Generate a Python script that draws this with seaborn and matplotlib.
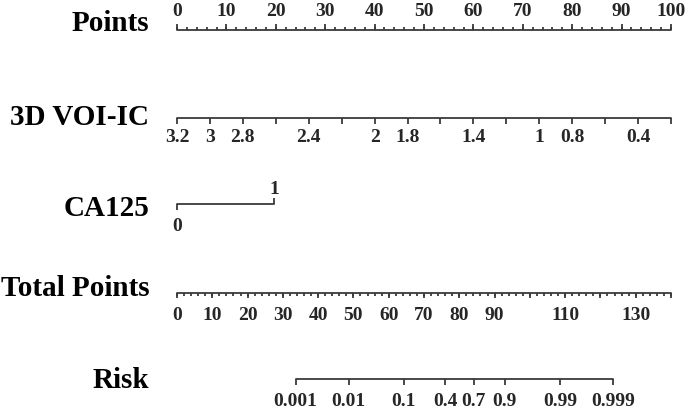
import numpy as np
import pandas as pd
import matplotlib
matplotlib.use("Agg")
import matplotlib.pyplot as plt
import seaborn as sns

# ---------------- data ----------------
row_labels = ["Points", "3D VOI-IC", "CA125", "Total Points", "Risk"]

points_major = list(range(0, 101, 10))
points_minor = list(range(0, 101, 2))

voi_ticks = [3.2, 3.0, 2.8, 2.6, 2.4, 2.2, 2.0, 1.8, 1.6, 1.4, 1.2, 1.0, 0.8, 0.6, 0.4, 0.2]
voi_labels = [3.2, 3.0, 2.8, 2.4, 2.0, 1.8, 1.4, 1.0, 0.8, 0.4]
voi_at_zero_points = 3.2
voi_at_max_points = 0.2

ca125_levels = [0, 1]
ca125_points = [0, 19.6]

total_max = 140
total_major = list(range(0, 141, 10))
total_minor = list(range(0, 141, 2))
total_labels = [0, 10, 20, 30, 40, 50, 60, 70, 80, 90, 110, 130]

risk_ticks = [0.001, 0.01, 0.1, 0.4, 0.7, 0.9, 0.99, 0.999]
risk_tp_at_half = 78.6      # total points where risk = 0.5
risk_tp_per_logit = 6.515   # total points per unit of log-odds

# ---------------- style ----------------
sns.set_theme(style="white")
plt.rcParams["font.family"] = ["Liberation Serif", "DejaVu Serif"]
plt.rcParams["font.weight"] = "bold"

LC = "#3a3a3a"
LW = 1.3
TICK_FS = 14
ROW_FS = 21

fig = plt.figure(figsize=(6.85, 4.12), dpi=100)
ax = fig.add_axes([0, 0, 1, 1])
px_per_pt = 4.94
x0 = 177
ax.set_xlim(-x0 / px_per_pt, (685 - x0) / px_per_pt)
ax.set_ylim(412, 0)
ax.axis("off")


def hline(xs, y):
    df = pd.DataFrame({"x": [min(xs), max(xs)], "y": [y, y]})
    sns.lineplot(data=df, x="x", y="y", ax=ax, color=LC, lw=LW,
                 sort=False, estimator=None, legend=False)


def ticks(xs, y, length):
    ax.vlines(xs, y, y + length, color=LC, lw=LW)


def fmt(v):
    return f"{v:g}"


def voi_to_pts(v):
    return (voi_at_zero_points - np.asarray(v)) / (voi_at_zero_points - voi_at_max_points) * 100


def tp_to_pts(tp):
    return np.asarray(tp) / total_max * 100


def risk_to_tp(p):
    p = np.asarray(p)
    return risk_tp_at_half + risk_tp_per_logit * np.log(p / (1 - p))


# Row labels
row_y = [23, 117, 208, 289, 380]
for lab, y in zip(row_labels, row_y):
    ax.text(-5.6, y, lab, ha="right", va="center", fontsize=ROW_FS,
            fontweight="bold", color="black")

# Points
y = 30
hline(points_minor, y)
ticks(points_minor, y, -3)
ticks(points_major, y, -6)
for v in points_major:
    ax.text(v, 11, fmt(v), ha="center", va="center", fontsize=TICK_FS, fontweight="bold")

# 3D VOI-IC
y = 118
vx = voi_to_pts(voi_ticks)
hline(vx, y)
ticks(vx, y, 6)
for v in voi_labels:
    ax.text(voi_to_pts(v), 138, fmt(v), ha="center", va="center",
            fontsize=TICK_FS, fontweight="bold")

# CA125
y = 204
hline(ca125_points, y)
ax.vlines(ca125_points[0], y, y + 6, color=LC, lw=LW)
ax.vlines(ca125_points[1], y, y - 6, color=LC, lw=LW)
ax.text(ca125_points[0], 226, fmt(ca125_levels[0]), ha="center", va="center",
        fontsize=TICK_FS, fontweight="bold")
ax.text(ca125_points[1], 189, fmt(ca125_levels[1]), ha="center", va="center",
        fontsize=TICK_FS, fontweight="bold")

# Total Points
y = 293
hline(tp_to_pts(total_minor), y)
ticks(tp_to_pts(total_minor), y, 3)
ticks(tp_to_pts(total_major), y, 5)
for v in total_labels:
    ax.text(tp_to_pts(v), 315, fmt(v), ha="center", va="center",
            fontsize=TICK_FS, fontweight="bold")

# Risk
y = 379
rx = tp_to_pts(risk_to_tp(risk_ticks))
hline(rx, y)
ticks(rx, y, 6)
for p, xp in zip(risk_ticks, rx):
    ax.text(xp, 401, fmt(p), ha="center", va="center",
            fontsize=TICK_FS, fontweight="bold")

fig.savefig("out.png", dpi=100)
